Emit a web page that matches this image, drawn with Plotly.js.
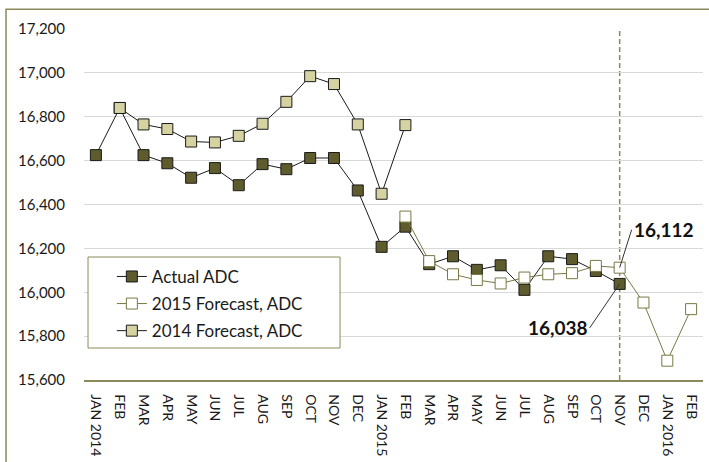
<!DOCTYPE html>
<html>
<head>
<meta charset="utf-8">
<script src="https://cdn.plot.ly/plotly-3.0.1.min.js"></script>
<style>
html,body{margin:0;padding:0;background:#fff;overflow:hidden;}
#chart{width:709px;height:462px;}
</style>
</head>
<body>
<div id="chart"></div>
<script>
const months = ["2014-01","2014-02","2014-03","2014-04","2014-05","2014-06","2014-07","2014-08","2014-09","2014-10","2014-11","2014-12",
  "2015-01","2015-02","2015-03","2015-04","2015-05","2015-06","2015-07","2015-08","2015-09","2015-10","2015-11","2015-12",
  "2016-01","2016-02"];
const tickLabels = ["JAN 2014","FEB","MAR","APR","MAY","JUN","JUL","AUG","SEP","OCT","NOV","DEC",
  "JAN 2015","FEB","MAR","APR","MAY","JUN","JUL","AUG","SEP","OCT","NOV","DEC",
  "JAN 2016","FEB"];

const actualMonths = months.slice(0, 23);
const actualADC = [16625, 16840, 16625, 16588, 16522, 16566, 16488, 16584, 16561, 16612, 16612, 16464,
  16207, 16299, 16128, 16164, 16102, 16123, 16011, 16164, 16151, 16097, 16038];

const fc2015Months = months.slice(13);
const forecast2015 = [16345, 16142, 16082, 16056, 16040, 16067, 16082, 16087, 16120, 16112, 15953, 15688, 15923];

const fc2014Months = months.slice(1, 14);
const forecast2014 = [16840, 16765, 16744, 16687, 16683, 16713, 16768, 16868, 16985, 16949, 16765, 16449, 16762];

const yTicks = [15600, 15800, 16000, 16200, 16400, 16600, 16800, 17000, 17200];
const markerMonth = "2015-11";
const lbl2015 = 16112, lblActual = 16038;

const olive = "#8c8a5a";
const FONT = "Lato, 'Liberation Sans', sans-serif";

const traces = [
  {x: actualMonths, y: actualADC, name: "Actual ADC", type: "scatter", mode: "lines+markers", legendgroup: "a",
   line: {color: "#1a1a1a", width: 1},
   marker: {symbol: "square", size: 11, color: "#5e5b2c", line: {color: "#1a1a1a", width: 1}}},
  {x: fc2015Months, y: forecast2015, name: "2015 Forecast, ADC", type: "scatter", mode: "lines+markers", legendgroup: "b",
   line: {color: "#7a7845", width: 1},
   marker: {symbol: "square", size: 11, color: "#ffffff", line: {color: "#7a7845", width: 1}}},
  {x: fc2014Months, y: forecast2014, name: "2014 Forecast, ADC", type: "scatter", mode: "lines+markers", legendgroup: "c",
   line: {color: "#1a1a1a", width: 1},
   marker: {symbol: "square", size: 11, color: "#d6d3a2", line: {color: "#1a1a1a", width: 1}}}
];

const layout = {
  width: 709, height: 462,
  margin: {l: 84, r: 6, t: 29, b: 82},
  paper_bgcolor: "#ffffff", plot_bgcolor: "#ffffff",
  font: {family: FONT, color: "#1a1a1a"},
  showlegend: true,
  legend: {x: 0.045, y: 0.345, xanchor: "left", yanchor: "top",
    bgcolor: "rgba(0,0,0,0)", borderwidth: 0, tracegroupgap: 2,
    font: {family: FONT, size: 17, color: "#1a1a1a"}, traceorder: "grouped", itemwidth: 30},
  xaxis: {type: "category", categoryorder: "array", categoryarray: months,
    tickvals: months, ticktext: tickLabels, tickangle: 90,
    range: [-0.5, 25.5], showgrid: false, zeroline: false,
    showline: true, linecolor: olive, linewidth: 1.5, ticks: "",
    tickfont: {family: FONT, size: 14, color: "#1a1a1a"}, ticklabelstandoff: 10},
  yaxis: {range: [15600, 17200], tickvals: yTicks, tickformat: ",d",
    showgrid: true, gridcolor: "#d9d9d9", gridwidth: 1, zeroline: false,
    showline: false, ticks: "", ticklabelstandoff: 18,
    tickfont: {family: FONT, size: 15, color: "#1a1a1a"}},
  shapes: [
    {type: "line", xref: "x", yref: "paper", x0: markerMonth, x1: markerMonth, y0: 0, y1: 1,
     line: {color: "#8a885a", width: 1.5, dash: "5px,3px"}, layer: "below"},
    {type: "rect", xref: "paper", yref: "paper", x0: 0.0065, x1: 0.4136, y0: 0.0912, y1: 0.3504,
     fillcolor: "#ffffff", line: {color: olive, width: 1}, layer: "above"},
    {type: "rect", xref: "paper", yref: "paper", x0: -0.126, x1: 1.2, y0: -0.4, y1: 1.056,
     fillcolor: "rgba(0,0,0,0)", line: {color: olive, width: 1.5}, layer: "above"}
  ],
  annotations: [
    {x: markerMonth, y: lbl2015, xref: "x", yref: "y", text: "<b>16,112</b>", showarrow: true,
     arrowhead: 0, arrowwidth: 1, arrowcolor: "#333333", ax: 12, ay: -38, xanchor: "left", yanchor: "middle",
     font: {family: FONT, size: 19, color: "#111111"}},
    {x: markerMonth, y: lblActual, xref: "x", yref: "y", text: "<b>16,038</b>", showarrow: true,
     arrowhead: 0, arrowwidth: 1, arrowcolor: "#333333", ax: -30, ay: 44, xanchor: "right", yanchor: "middle",
     font: {family: FONT, size: 19, color: "#111111"}}
  ]
};

Plotly.newPlot("chart", traces, layout, {displayModeBar: false, staticPlot: true});
</script>
</body>
</html>
